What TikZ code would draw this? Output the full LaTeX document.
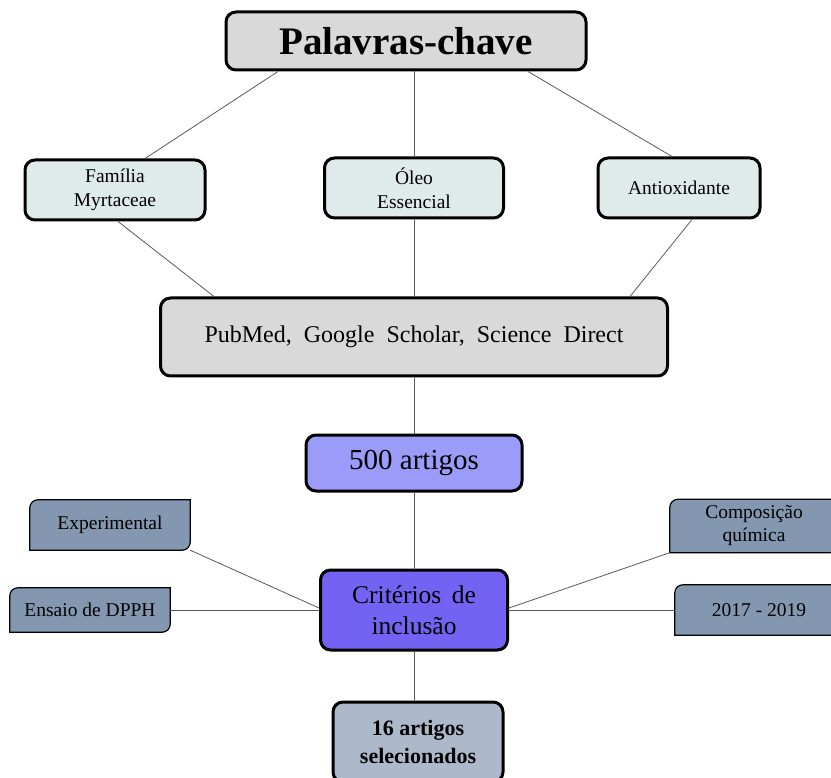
\documentclass[tikz,border=0pt]{standalone}
\usepackage{fontspec}
\setmainfont{Liberation Serif}
\usetikzlibrary{backgrounds}
\definecolor{cinzaclaro}{HTML}{D9D9D9}
\definecolor{verdeclaro}{HTML}{DEEBEA}
\definecolor{lilas}{HTML}{9B9BFA}
\definecolor{roxo}{HTML}{7462F2}
\definecolor{azulcinza}{HTML}{ADB9CA}
\definecolor{azulescuro}{HTML}{8497B0}
\begin{document}
\begin{tikzpicture}[x=1pt,y=-1pt,
 caixa/.style={draw, line width=3pt, rounded corners=10pt, align=center, inner sep=0pt},
 chave/.style={caixa, fill=verdeclaro, minimum height=60pt, font=\fontsize{19.5}{24}\selectfont},
 lateral/.style={align=center, inner sep=0pt, minimum height=50pt, font=\fontsize{19.5}{23}\selectfont},
 fundo/.style={draw, fill=azulescuro, line width=1.2pt},
 ligacao/.style={draw=black!65, line width=0.8pt}]
\useasboundingbox (0,0) rectangle (831,778);
\node[caixa, fill=cinzaclaro, minimum width=360pt, minimum height=58pt, font=\bfseries\fontsize{39}{42}\selectfont] (pal) at (406,41) {Palavras-chave};
\node[chave, minimum width=180pt] (fam) at (115,190) {Família\\Myrtaceae};
\node[chave, minimum width=179pt] (ole) at (414,188) {Óleo\\Essencial};
\node[chave, minimum width=162pt] (ant) at (679,188) {Antioxidante};
\node[caixa, fill=cinzaclaro, minimum width=507pt, minimum height=78pt, font=\fontsize{24}{28}\selectfont] (pub) at (414,337) {\spaceskip=12pt PubMed, Google Scholar, Science Direct};
\node[caixa, fill=lilas, minimum width=216pt, minimum height=56pt, font=\fontsize{29}{32}\selectfont] (art) at (414,463) {500 artigos};
\node[caixa, fill=roxo, minimum width=187pt, minimum height=80pt, font=\fontsize{25.5}{31}\selectfont] (cri) at (414,610) {Critérios\hspace{4pt} de\\inclusão};
\node[caixa, fill=azulcinza, minimum width=170pt, minimum height=80pt, font=\bfseries\fontsize{22}{28}\selectfont] (sel) at (418,742) {16 artigos\\selecionados};
\node[lateral, minimum width=160pt] (exp) at (110,525) {Experimental};
\node[lateral, minimum width=160pt, minimum height=44pt] (dpp) at (90,610) {Ensaio de DPPH};
\node[lateral, minimum width=168pt, minimum height=53pt] (com) at (754,526) {Composição\\química};
\node[lateral, minimum width=168pt] (ano) at (759,610) {2017 - 2019};
\begin{pgfonlayer}{background}
\foreach \n in {exp,dpp,com,ano}
  \filldraw[fundo] (\n.south west) -- ([yshift=-8pt]\n.north west) arc[start angle=180, end angle=90, radius=8pt] -- (\n.north east) -- ([yshift=8pt]\n.south east) arc[start angle=0, end angle=-90, radius=8pt] -- cycle;
\end{pgfonlayer}
\draw[ligacao] ([xshift=-128pt]pal.south) -- ([xshift=30pt]fam.north);
\draw[ligacao] ([xshift=8pt]pal.south) -- (ole.north);
\draw[ligacao] ([xshift=122pt]pal.south) -- ([xshift=-7pt]ant.north);
\draw[ligacao] ([xshift=3pt]fam.south) -- ([xshift=-200pt]pub.north);
\draw[ligacao] (ole.south) -- (pub.north);
\draw[ligacao] ([xshift=13pt]ant.south) -- ([xshift=216pt]pub.north);
\draw[ligacao] (pub.south) -- (art.north);
\draw[ligacao] (art.south) -- (cri.north);
\draw[ligacao] (cri.south) -- ([xshift=-4pt]sel.north);
\draw[ligacao] (exp.south east) -- ([yshift=2pt]cri.west);
\draw[ligacao] (dpp.east) -- (cri.west);
\draw[ligacao] (com.south west) -- ([yshift=2pt]cri.east);
\draw[ligacao] (ano.west) -- (cri.east);
\end{tikzpicture}
\end{document}
